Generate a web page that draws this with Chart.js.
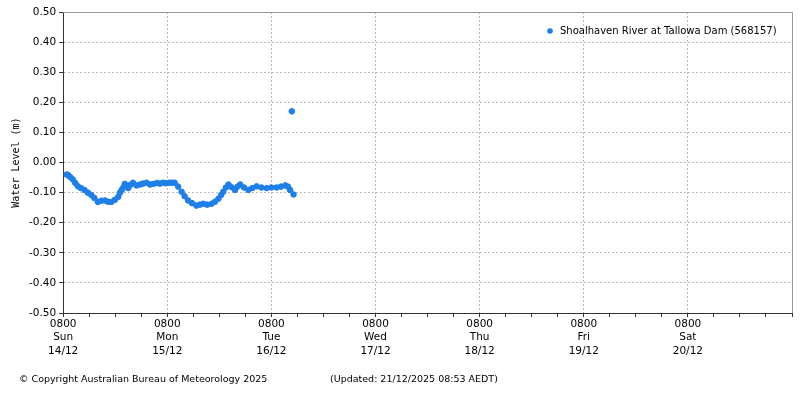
<!DOCTYPE html>
<html>
<head>
<script src="https://cdn.jsdelivr.net/npm/chart.js@4"></script>
<style>
body { margin: 0; background: #fff; }
#wrap { width: 800px; height: 400px; }
</style>
</head>
<body>
<div id="wrap"><canvas id="c"></canvas></div>
<script>
// hours after 0800 Sun 14/12
const hours = [0.8, 1.1, 1.6, 2.2, 2.8, 3.4, 4.1, 4.9, 5.7, 6.5, 7.2, 8.0, 8.8, 9.6, 10.3, 11.1, 11.9, 12.7, 13.1, 13.5, 13.9, 14.2, 14.6, 15.0, 15.5, 16.1, 16.9, 17.7, 18.4, 19.2, 20.0, 20.8, 21.6, 22.3, 23.0, 23.7, 24.5, 25.1, 25.7, 26.5, 27.3, 28.0, 28.8, 29.7, 30.7, 31.5, 32.3, 33.2, 34.2, 35.0, 35.8, 36.4, 36.9, 37.5, 38.1, 38.8, 39.6, 40.2, 40.8, 41.7, 42.7, 43.6, 44.6, 45.7, 46.9, 48.0, 49.2, 50.2, 51.2, 51.8, 52.3, 53.1, 52.7];
const levels = [-0.04, -0.041, -0.048, -0.056, -0.068, -0.079, -0.085, -0.091, -0.1, -0.108, -0.118, -0.131, -0.127, -0.126, -0.13, -0.131, -0.124, -0.114, -0.1, -0.091, -0.082, -0.071, -0.078, -0.085, -0.074, -0.067, -0.076, -0.073, -0.07, -0.067, -0.073, -0.071, -0.068, -0.07, -0.067, -0.069, -0.067, -0.067, -0.067, -0.08, -0.097, -0.112, -0.126, -0.135, -0.143, -0.14, -0.137, -0.14, -0.137, -0.13, -0.12, -0.108, -0.097, -0.083, -0.073, -0.082, -0.091, -0.08, -0.073, -0.083, -0.091, -0.085, -0.079, -0.083, -0.085, -0.083, -0.083, -0.08, -0.076, -0.08, -0.091, -0.106, 0.17];
const dayNames = ["Sun", "Mon", "Tue", "Wed", "Thu", "Fri", "Sat"];
const dayDates = ["14/12", "15/12", "16/12", "17/12", "18/12", "19/12", "20/12"];

const font = "'DejaVu Sans', sans-serif";

const extras = {
  id: "extras",
  afterDraw(chart) {
    const ctx = chart.ctx, a = chart.chartArea;
    ctx.save();
    ctx.strokeStyle = "#999";
    ctx.lineWidth = 1;
    ctx.beginPath();
    ctx.moveTo(a.left, a.top + 0.5); ctx.lineTo(a.right + 0.5, a.top + 0.5); ctx.lineTo(a.right + 0.5, a.bottom);
    ctx.stroke();
    // legend
    ctx.fillStyle = "#1e7fe8";
    ctx.beginPath(); ctx.arc(550, 31, 2.8, 0, 2 * Math.PI); ctx.fill();
    ctx.fillStyle = "#000";
    ctx.font = "10px " + font;
    ctx.textBaseline = "middle";
    ctx.fillText("Shoalhaven River at Tallowa Dam (568157)", 560, 31);
    ctx.font = "9.5px " + font;
    ctx.fillText("\u00A9 Copyright Australian Bureau of Meteorology 2025", 19, 380);
    ctx.fillText("(Updated: 21/12/2025 08:53 AEDT)", 330, 380);
    ctx.restore();
  }
};

new Chart(document.getElementById("c"), {
  type: "scatter",
  data: {
    datasets: [{
      data: hours.map((h, i) => ({x: h, y: levels[i]})),
      backgroundColor: "#1e7fe8",
      borderColor: "#1e7fe8",
      pointRadius: 2.8,
      pointHoverRadius: 2.8
    }]
  },
  options: {
    responsive: true,
    maintainAspectRatio: false,
    animation: false,
    layout: { padding: { top: 12, right: 8, bottom: 42, left: 6 } },
    plugins: { legend: { display: false }, tooltip: { enabled: false } },
    scales: {
      x: {
        type: "linear", min: 0, max: 168,
        ticks: {
          stepSize: 6, autoSkip: false, maxRotation: 0, color: "#000",
          font: { size: 10.5, family: font, lineHeight: 1.3 }, padding: 0,
          callback: v => v % 24 === 0 && v < 168 ? ["0800", dayNames[v / 24], dayDates[v / 24]] : ""
        },
        grid: {
          color: c => (c.tick && c.tick.value % 24 === 0 && c.tick.value > 0 && c.tick.value < 168) ? "#bbb" : "rgba(0,0,0,0)",
          tickColor: "#333", tickLength: 4, drawTicks: true
        },
        border: { color: "#333", dash: [2, 2] }
      },
      y: {
        min: -0.5, max: 0.5,
        ticks: { stepSize: 0.1, color: "#000", font: { size: 10.5, family: font }, callback: v => v.toFixed(2) },
        grid: { color: c => (c.tick && c.tick.value > -0.45 && c.tick.value < 0.45) ? "#bbb" : "rgba(0,0,0,0)", tickColor: "#333", tickLength: 4 },
        border: { color: "#333", dash: [2, 2] },
        title: { display: true, text: "Water Level (m)", color: "#000", font: { size: 10, family: "'DejaVu Sans Mono', monospace" } }
      }
    }
  },
  plugins: [extras]
});
</script>
</body>
</html>
